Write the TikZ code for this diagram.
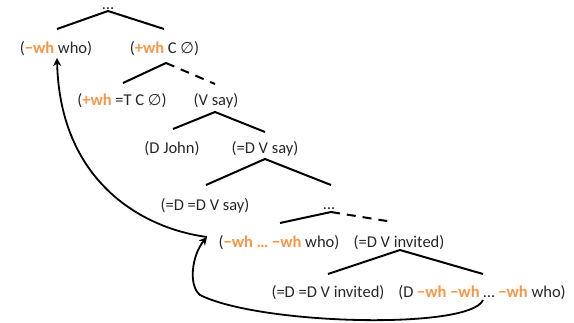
\documentclass[tikz,border=0pt]{standalone}
\usepackage{fontspec}
\usetikzlibrary{arrows.meta}
\setmainfont{Carlito}
\newfontfamily\symf{DejaVu Sans}
\definecolor{whorange}{HTML}{F79646}
\definecolor{txt}{HTML}{262626}
\newcommand{\wh}[1]{\textcolor{whorange}{\textbf{#1}}}
\newcommand{\nul}{{\symf\scalebox{0.95}{∅}}}
\begin{document}
\begin{tikzpicture}[x=1pt,y=-1pt,
  lbl/.style={inner sep=0pt,font=\fontsize{16.5}{19}\selectfont,text=txt},
  branch/.style={line width=2pt},
  dbranch/.style={line width=2pt,dash pattern=on 9pt off 7pt},
  move/.style={line width=1.8pt,-{Stealth[length=8pt,width=8pt,inset=2.5pt]}}]
\useasboundingbox (0,0) rectangle (574,322);
% nodes
\node[lbl] (who) at (56,49) {(\wh{−wh} who)};
\node[lbl] (cnull) at (164.5,49) {(\wh{+wh} C \nul)};
\node[lbl] (tc) at (122,101) {(\wh{+wh} =T C \nul)};
\node[lbl] (vsay) at (216,101) {(V say)};
\node[lbl] (john) at (172,149) {(D John)};
\node[lbl] (dvsay) at (265,149) {(=D V say)};
\node[lbl] (ddvsay) at (205,206) {(=D =D V say)};
\node[lbl] (whwho) at (279,243) {(\wh{−wh … −wh} who)};
\node[lbl] (dvinv) at (399,243) {(=D V invited)};
\node[lbl] (ddvinv) at (328,293) {(=D =D V invited)};
\node[lbl] (dwho) at (482,293) {(D \wh{−wh −wh} … \wh{−wh} who)};
\node[lbl,anchor=base,text height=2pt,text depth=0pt] (dots1) at (108,9) {…};
\node[lbl,anchor=base,text height=2pt,text depth=0pt] (dots2) at (329,209) {…};
% tree branches
\coordinate (a1) at (108,11);
\coordinate (a1l) at (57,29);
\coordinate (a1r) at (164,29);
\coordinate (a2) at (166,63);
\coordinate (a2l) at (123,83);
\coordinate (a2r) at (215,84);
\coordinate (a3) at (215,112);
\coordinate (a3l) at (173,129);
\coordinate (a3r) at (265,132);
\coordinate (a4) at (265,159);
\coordinate (a4l) at (206,185);
\coordinate (a4r) at (331,185);
\coordinate (a5) at (331,212);
\coordinate (a5l) at (280,223);
\coordinate (a5r) at (393,222);
\coordinate (a6) at (400,250);
\coordinate (a6l) at (328,274);
\coordinate (a6r) at (483,274);
\draw[branch] (a1l) -- (a1) -- (a1r);
\draw[branch] (a2l) -- (a2);
\draw[dbranch] (a2) -- (a2r);
\draw[branch] (a3l) -- (a3) -- (a3r);
\draw[branch] (a4l) -- (a4) -- (a4r);
\draw[branch] (a5l) -- (a5);
\draw[dbranch] (a5) -- (a5r);
\draw[branch] (a6l) -- (a6) -- (a6r);
% movement arrows
\coordinate (m1) at (207,237);
\coordinate (m2) at (483,300);
\coordinate (t1) at (57,58);
\draw[move] (m1) .. controls (140,228) and (60,180) .. (t1);
\draw[move] (m2) .. controls (470,330) and (260,325) .. (200,295) .. controls (188,285) and (192,255) .. (m1);
\end{tikzpicture}
\end{document}
